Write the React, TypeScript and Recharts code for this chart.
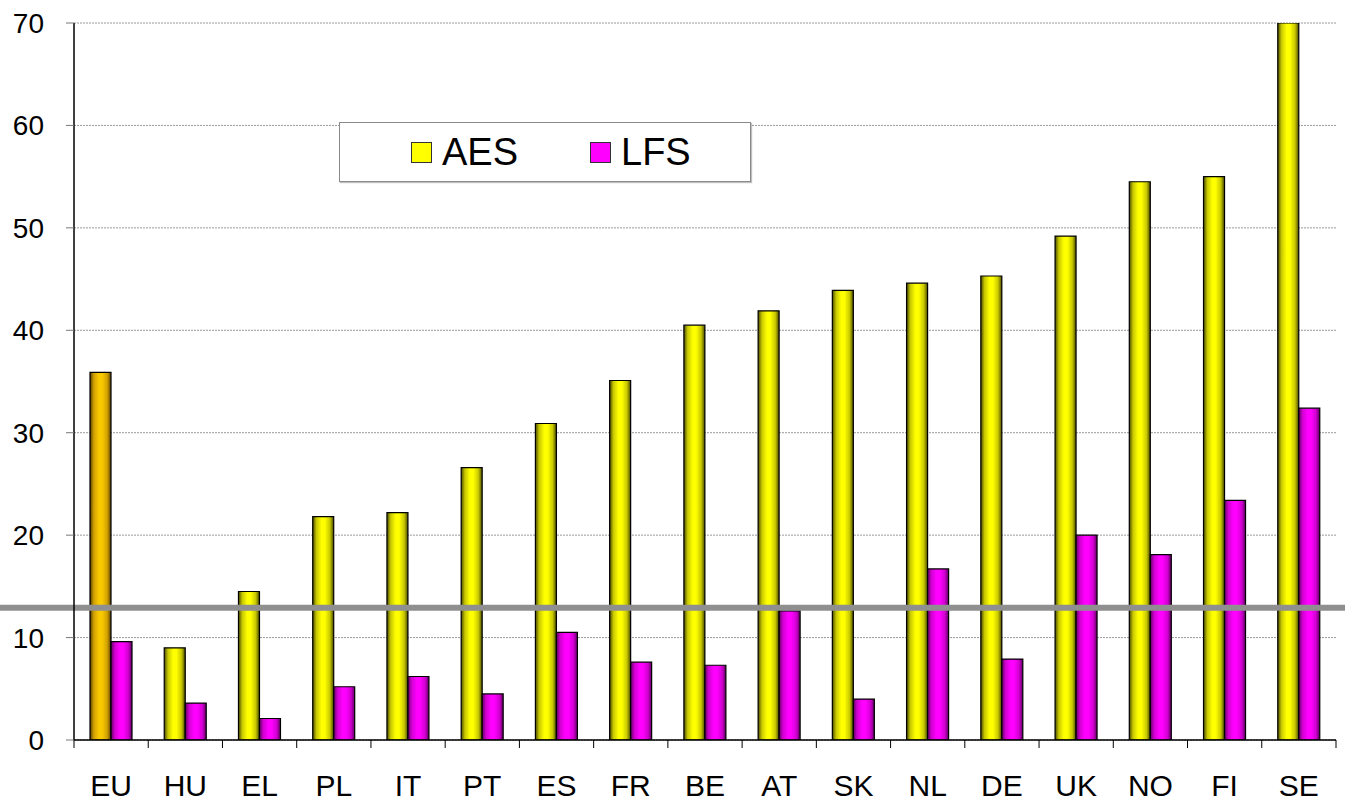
import { BarChart, Bar, XAxis, YAxis, CartesianGrid, Legend, ReferenceLine, Cell } from 'recharts';

const countries = ['EU', 'HU', 'EL', 'PL', 'IT', 'PT', 'ES', 'FR', 'BE', 'AT', 'SK', 'NL', 'DE', 'UK', 'NO', 'FI', 'SE'];
const aes = [35.9, 9.0, 14.5, 21.8, 22.2, 26.6, 30.9, 35.1, 40.5, 41.9, 43.9, 44.6, 45.3, 49.2, 54.5, 55.0, 70];
const lfs = [9.6, 3.6, 2.1, 5.2, 6.2, 4.5, 10.5, 7.6, 7.3, 12.6, 4.0, 16.7, 7.9, 20.0, 18.1, 23.4, 32.4];
const yTicks = [0, 10, 20, 30, 40, 50, 60, 70];
const benchmark = 12.9;

const data = countries.map((c, i) => ({ country: c, AES: aes[i], LFS: lfs[i] }));

const W = 1345;
const H = 803;
const M = { top: 23, right: 9, bottom: 0, left: 0 };
const Y_AXIS_W = 74;
const X_AXIS_H = 63;
const band = (W - M.left - M.right - Y_AXIS_W) / countries.length;
const axisY = H - M.bottom - X_AXIS_H;

const font = '"Liberation Sans", Arial, sans-serif';

// category labels at band centres, small tick marks at band edges
function XTick(props: any) {
  const { x, payload, index } = props;
  const last = index === countries.length - 1;
  return (
    <g>
      <line x1={x - band / 2} x2={x - band / 2} y1={axisY} y2={axisY + 8} stroke="#000" strokeWidth={1} />
      {last && <line x1={x + band / 2} x2={x + band / 2} y1={axisY} y2={axisY + 8} stroke="#000" strokeWidth={1} />}
      <text x={x} y={axisY + 56} textAnchor="middle" fontSize={30} fontFamily={font} fill="#000">
        {payload.value}
      </text>
    </g>
  );
}

function LegendBox() {
  const items = [
    { name: 'AES', flat: '#ffff00' },
    { name: 'LFS', flat: '#ff00ff' },
  ];
  return (
    <div
      style={{
        width: 410,
        height: 58,
        border: '1.5px solid #8a8a8a',
        background: '#fff',
        boxShadow: '1px 1px 1px rgba(0,0,0,0.25)',
        position: 'relative',
        fontFamily: font,
      }}
    >
      {items.map((it, i) => (
        <div
          key={it.name}
          style={{ position: 'absolute', left: i === 0 ? 71 : 250, top: 8, display: 'flex', alignItems: 'center' }}
        >
          <span
            style={{
              display: 'inline-block',
              width: 19,
              height: 19,
              background: it.flat,
              border: '1px solid #333',
              marginRight: 10,
            }}
          />
          <span style={{ fontSize: 38, lineHeight: '42px', color: '#000' }}>{it.name}</span>
        </div>
      ))}
    </div>
  );
}

export default function App() {
  return (
    <div style={{ position: 'absolute', left: 0, top: 0, width: W, height: H, background: '#fff' }}>
      <BarChart width={W} height={H} data={data} margin={M} barCategoryGap={16} barGap={0}>
        <defs>
          <linearGradient id="gYellow" x1="0" y1="0" x2="1" y2="0">
            <stop offset="0%" stopColor="#4a4a00" />
            <stop offset="18%" stopColor="#c8c800" />
            <stop offset="42%" stopColor="#ffff00" />
            <stop offset="58%" stopColor="#ffff00" />
            <stop offset="82%" stopColor="#c8c800" />
            <stop offset="100%" stopColor="#4a4a00" />
          </linearGradient>
          <linearGradient id="gPink" x1="0" y1="0" x2="1" y2="0">
            <stop offset="0%" stopColor="#600060" />
            <stop offset="18%" stopColor="#d000d0" />
            <stop offset="42%" stopColor="#ff00ff" />
            <stop offset="58%" stopColor="#ff00ff" />
            <stop offset="82%" stopColor="#d000d0" />
            <stop offset="100%" stopColor="#600060" />
          </linearGradient>
          <linearGradient id="gOrange" x1="0" y1="0" x2="1" y2="0">
            <stop offset="0%" stopColor="#5a4000" />
            <stop offset="18%" stopColor="#d0a000" />
            <stop offset="42%" stopColor="#f8c800" />
            <stop offset="58%" stopColor="#f8c800" />
            <stop offset="82%" stopColor="#d0a000" />
            <stop offset="100%" stopColor="#5a4000" />
          </linearGradient>
        </defs>
        <CartesianGrid vertical={false} stroke="#9a9a9a" strokeDasharray="2 1" />
        <XAxis
          dataKey="country"
          height={X_AXIS_H}
          axisLine={{ stroke: '#000', strokeWidth: 1.5 }}
          tickLine={false}
          tick={<XTick />}
          interval={0}
        />
        <YAxis
          width={Y_AXIS_W}
          domain={[0, 70]}
          ticks={yTicks}
          allowDataOverflow
          axisLine={{ stroke: '#000', strokeWidth: 1.5 }}
          tickLine={{ stroke: '#777' }}
          tickSize={8}
          tickMargin={22}
          tick={{ fontSize: 28, fontFamily: font, fill: '#000' }}
        />
        <Legend
          layout="horizontal"
          verticalAlign="middle"
          align="center"
          wrapperStyle={{ top: 122, left: 339, width: 413, height: 61 }}
          content={<LegendBox />}
        />
        <Bar dataKey="AES" fill="url(#gYellow)" stroke="#000" strokeWidth={1.2} isAnimationActive={false}>
          {data.map((d, i) => (
            <Cell key={d.country} fill={i === 0 ? 'url(#gOrange)' : 'url(#gYellow)'} />
          ))}
        </Bar>
        <Bar dataKey="LFS" fill="url(#gPink)" stroke="#000" strokeWidth={1.2} isAnimationActive={false} />
        <ReferenceLine
          y={benchmark}
          ifOverflow="visible"
          shape={(p: any) => (
            <line x1={0} x2={W} y1={p.y1} y2={p.y1} stroke="#8f8f8f" strokeWidth={6} />
          )}
        />
      </BarChart>
    </div>
  );
}
